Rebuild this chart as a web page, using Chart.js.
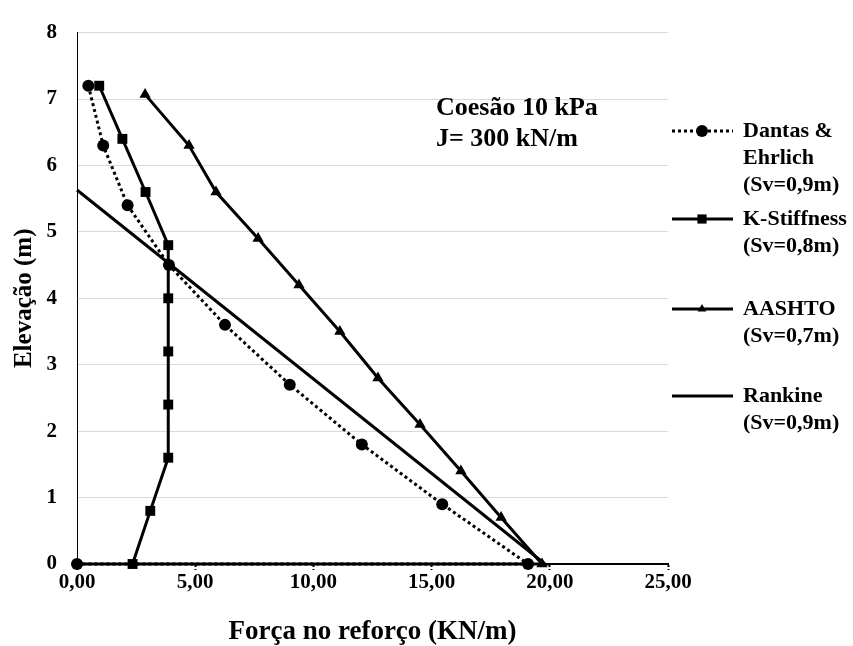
<!DOCTYPE html>
<html>
<head>
<meta charset="utf-8">
<script src="https://cdn.jsdelivr.net/npm/chart.js@4"></script>
<style>
  html, body { margin: 0; padding: 0; background: #fff; }
  #wrap { width: 853px; height: 646px; position: relative; }
</style>
</head>
<body>
<div id="wrap"><canvas id="c" width="853" height="646"></canvas></div>
<script>
// ---- data ----
const dantasX   = [0.48, 1.11, 2.14, 3.89, 6.26, 9.0, 12.05, 15.45, 19.08, 0];
const dantasY   = [7.2, 6.3, 5.4, 4.5, 3.6, 2.7, 1.8, 0.9, 0, 0];
const kStiffX   = [0.94, 1.92, 2.9, 3.86, 3.86, 3.86, 3.86, 3.86, 3.1, 2.35];
const kStiffY   = [7.2, 6.4, 5.6, 4.8, 4.0, 3.2, 2.4, 1.6, 0.8, 0];
const aashtoX   = [2.88, 4.74, 5.88, 7.66, 9.39, 11.12, 12.73, 14.51, 16.24, 17.94, 19.67];
const aashtoY   = [7.07, 6.3, 5.6, 4.9, 4.2, 3.5, 2.8, 2.1, 1.4, 0.7, 0];
const rankineX  = [0, 19.8, 0];
const rankineY  = [5.63, 0, 0];
const seriesNames = ["Dantas & Ehrlich (Sv=0,9m)", "K-Stiffness (Sv=0,8m)", "AASHTO (Sv=0,7m)", "Rankine (Sv=0,9m)"];
const legendLines = [["Dantas &", "Ehrlich", "(Sv=0,9m)"], ["K-Stiffness", "(Sv=0,8m)"], ["AASHTO", "(Sv=0,7m)"], ["Rankine", "(Sv=0,9m)"]];
const annotationLines = ["Coesão 10 kPa", "J= 300 kN/m"];
const xTicks = [0, 5, 10, 15, 20, 25];
const yTicks = [0, 1, 2, 3, 4, 5, 6, 7, 8];
const xTitle = "Força no reforço (KN/m)";
const yTitle = "Elevação (m)";

const pts = (xs, ys) => xs.map((x, i) => ({x: x, y: ys[i]}));
const FONT = "'Liberation Serif', 'Times New Roman', serif";

const legendPlugin = {
  id: 'sideLegend',
  afterDraw(chart) {
    const ctx = chart.ctx;
    const lineY = [131, 219, 309, 396];
    const x0 = 672, x1 = 733, xm = 702, tx = 743, lh = 27;
    ctx.save();
    chart.data.datasets.forEach((ds, i) => {
      if (i >= legendLines.length) return;
      const y = lineY[i];
      ctx.strokeStyle = '#000';
      ctx.lineWidth = ds.borderWidth;
      ctx.setLineDash(ds.borderDash || []);
      ctx.beginPath(); ctx.moveTo(x0, y); ctx.lineTo(x1, y); ctx.stroke();
      ctx.setLineDash([]);
      if (ds.pointRadius > 0) {
        ctx.fillStyle = '#000';
        const r = ds.pointStyle === 'circle' ? 6 : (ds.pointStyle === 'rect' ? 6.5 : 5);
        Chart.helpers.drawPoint(ctx, {pointStyle: ds.pointStyle, rotation: 0, radius: r, borderWidth: 0}, xm, y);
      }
      ctx.fillStyle = '#000';
      ctx.font = "bold 22px " + FONT;
      ctx.textBaseline = 'middle';
      ctx.textAlign = 'left';
      legendLines[i].forEach((t, k) => ctx.fillText(t, tx, y + k * lh));
    });
    // annotation text
    ctx.font = "bold 26px " + FONT;
    ctx.textBaseline = 'middle';
    ctx.fillText(annotationLines[0], 436, 108);
    ctx.fillText(annotationLines[1], 436, 139);
    ctx.restore();
  }
};

new Chart(document.getElementById('c'), {
  type: 'scatter',
  data: {
    datasets: [
      { label: seriesNames[0], data: pts(dantasX, dantasY), showLine: true, clip: false,
        borderColor: '#000', backgroundColor: '#000', borderWidth: 3, borderDash: [3, 3],
        pointStyle: 'circle', pointRadius: 6, pointBorderWidth: 0, order: 2 },
      { label: seriesNames[1], data: pts(kStiffX, kStiffY), showLine: true, clip: false,
        borderColor: '#000', backgroundColor: '#000', borderWidth: 3,
        pointStyle: 'rect', pointRadius: 7, pointBorderWidth: 0, order: 1 },
      { label: seriesNames[2], data: pts(aashtoX, aashtoY), showLine: true, clip: false,
        borderColor: '#000', backgroundColor: '#000', borderWidth: 3,
        pointStyle: 'triangle', pointRadius: 6.5, pointBorderWidth: 0, order: 1 },
      { label: seriesNames[3], data: pts(rankineX, rankineY), showLine: true, clip: false,
        borderColor: '#000', backgroundColor: '#000', borderWidth: 3,
        pointRadius: 0, order: 3 }
    ]
  },
  options: {
    responsive: false,
    animation: false,
    layout: { padding: { left: 0, top: 22, right: 185, bottom: 0 } },
    plugins: { legend: { display: false }, tooltip: { enabled: false } },
    elements: { line: { tension: 0 } },
    scales: {
      x: {
        type: 'linear', min: 0, max: 25,
        afterBuildTicks: s => { s.ticks = xTicks.map(v => ({value: v})); },
        afterFit: s => { s.height = 82; },
        ticks: {
          color: '#000', font: { family: FONT, size: 21, weight: 'bold' }, padding: 0,
          callback: v => v.toFixed(2).replace('.', ',')
        },
        grid: { drawOnChartArea: false, drawTicks: true, tickLength: 6, tickColor: '#000',
                tickWidth: 2, tickBorderDash: [2, 2] },
        border: { display: true, color: '#000', width: 2, dash: [2, 2] },
        title: { display: true, text: xTitle, color: '#000',
                 font: { family: FONT, size: 27, weight: 'bold' }, padding: { top: 0, bottom: -2 } }
      },
      y: {
        type: 'linear', min: 0, max: 8,
        afterBuildTicks: s => { s.ticks = yTicks.map(v => ({value: v})); },
        afterFit: s => { s.width = 77; },
        ticks: { color: '#000', font: { family: FONT, size: 21, weight: 'bold' }, padding: 20 },
        grid: { color: c => (c.tick && c.tick.value === 0) ? 'rgba(0,0,0,0)' : '#d9d9d9',
                lineWidth: 1, drawTicks: false },
        border: { display: true, color: '#000', width: 1 },
        title: { display: true, text: yTitle, color: '#000',
                 font: { family: FONT, size: 25, weight: 'bold' }, padding: { top: 10, bottom: 0 } }
      }
    }
  },
  plugins: [legendPlugin]
});
</script>
</body>
</html>
